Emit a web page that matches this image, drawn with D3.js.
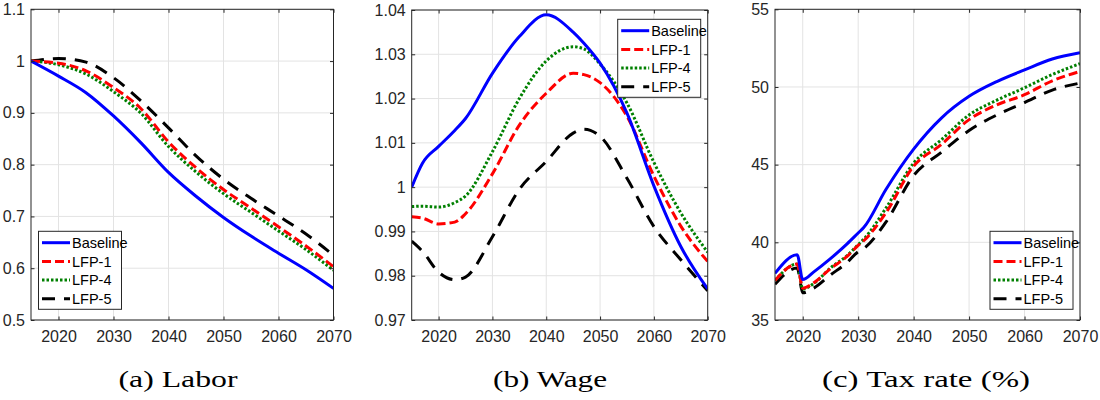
<!DOCTYPE html>
<html>
<head>
<meta charset="utf-8">
<script src="https://cdn.jsdelivr.net/npm/d3@7"></script>
<style>
  body { margin: 0; background: #fff; }
  svg { display: block; }
  .tick-label { font-family: "Liberation Sans Narrow", "Arial Narrow", "Liberation Sans", sans-serif; font-size: 16px; fill: #262626; }
  .legend-label { font-family: "Liberation Sans Narrow", "Arial Narrow", "Liberation Sans", sans-serif; font-size: 14.5px; fill: #000; }
  .caption { font-family: "Liberation Serif", "DejaVu Serif", serif; font-size: 23px; fill: #000; }
</style>
</head>
<body>
<svg width="1100" height="400"></svg>
<script>
// series names and x ticks shared by all three panels
var seriesNames = ["Baseline", "LFP-1", "LFP-4", "LFP-5"];
var yearTicks = [2020, 2030, 2040, 2050, 2060, 2070];

// (a) Labor
var laborYears = [2015, 2020, 2025, 2030, 2035, 2040, 2045, 2050, 2055, 2060, 2065, 2070];
var laborBase = [1.000, 0.971, 0.939, 0.894, 0.842, 0.785, 0.739, 0.698, 0.662, 0.629, 0.597, 0.561];
var laborLfp1 = [1.000, 0.996, 0.981, 0.949, 0.908, 0.844, 0.794, 0.752, 0.716, 0.680, 0.643, 0.603];
var laborLfp4 = [1.000, 0.993, 0.975, 0.941, 0.899, 0.835, 0.786, 0.744, 0.708, 0.672, 0.636, 0.596];
var laborLfp5 = [1.000, 1.005, 0.998, 0.968, 0.923, 0.871, 0.817, 0.772, 0.735, 0.701, 0.666, 0.625];
var laborTicks = [0.5, 0.6, 0.7, 0.8, 0.9, 1, 1.1];
var laborTickLabels = ["0.5", "0.6", "0.7", "0.8", "0.9", "1", "1.1"];

// (b) Wage
var wageYears = [2015, 2017, 2020, 2023, 2025, 2030, 2035, 2040, 2045, 2047, 2050, 2055, 2060, 2065, 2070];
var wageBase = [1.0000, 1.0054, 1.0092, 1.0128, 1.0155, 1.0257, 1.0340, 1.0389, 1.0350, 1.0325, 1.0280, 1.0167, 1.0003, 0.9866, 0.9770];
var wageLfp1 = [0.9933, 0.9930, 0.9917, 0.9921, 0.9940, 1.0030, 1.0140, 1.0212, 1.0257, 1.0254, 1.0236, 1.0160, 1.0025, 0.9912, 0.9832];
var wageLfp4 = [0.9956, 0.9957, 0.9955, 0.9965, 0.9980, 1.0080, 1.0200, 1.0285, 1.0317, 1.0312, 1.0278, 1.0190, 1.0056, 0.9942, 0.9853];
var wageLfp5 = [0.9878, 0.9855, 0.9808, 0.9791, 0.9797, 0.9888, 0.9995, 1.0058, 1.0122, 1.0131, 1.0115, 1.0020, 0.9911, 0.9836, 0.9766];
var wageTicks = [0.97, 0.98, 0.99, 1, 1.01, 1.02, 1.03, 1.04];
var wageTickLabels = ["0.97", "0.98", "0.99", "1", "1.01", "1.02", "1.03", "1.04"];

// (c) Tax rate (%)
var taxYears = [2015, 2019, 2020, 2022, 2025, 2028, 2030, 2031, 2035, 2040, 2045, 2050, 2055, 2060, 2065, 2070];
var taxBase = [38.0, 39.2, 37.6, 38.1, 38.95, 39.9, 40.6, 40.95, 43.4, 46.0, 48.0, 49.4, 50.35, 51.1, 51.8, 52.2];
var taxLfp1 = [37.55, 38.6, 37.05, 37.4, 38.3, 39.1, 39.8, 40.1, 41.9, 44.9, 46.3, 47.9, 48.85, 49.5, 50.4, 51.0];
var taxLfp4 = [37.55, 38.6, 37.0, 37.35, 38.35, 39.15, 39.85, 40.2, 42.2, 45.1, 46.6, 48.2, 49.15, 49.95, 50.8, 51.5];
var taxLfp5 = [37.3, 38.35, 36.75, 37.05, 37.9, 38.7, 39.4, 39.6, 41.3, 44.3, 45.8, 47.2, 48.2, 49.0, 49.8, 50.25];
var taxTicks = [35, 40, 45, 50, 55];
var taxTickLabels = ["35", "40", "45", "50", "55"];

var colors = ["#0000ff", "#ff0000", "#008000", "#000000"];
var dashes = [null, "9,4", "2.5,2", "13,9"];

var svg = d3.select("svg");

function drawPanel(p) {
    var x = d3.scaleLinear().domain([2015, 2070]).range([p.left, p.right]);
    var y = d3.scaleLinear().domain(p.domain).range([p.bottom, p.top]);
    var g = svg.append("g");

    // grid
    g.selectAll("line.vgrid").data(yearTicks).enter().append("line")
        .attr("x1", function(d){ return x(d); }).attr("x2", function(d){ return x(d); })
        .attr("y1", p.top).attr("y2", p.bottom)
        .attr("stroke", "#e3e3e3").attr("stroke-width", 1);
    g.selectAll("line.hgrid").data(p.ticks).enter().append("line")
        .attr("x1", p.left).attr("x2", p.right)
        .attr("y1", function(d){ return y(d); }).attr("y2", function(d){ return y(d); })
        .attr("stroke", "#e3e3e3").attr("stroke-width", 1);

    // series
    var line = d3.line()
        .x(function(d){ return x(d[0]); })
        .y(function(d){ return y(d[1]); })
        .curve(d3.curveMonotoneX);
    var clipId = "clip" + p.id;
    svg.append("clipPath").attr("id", clipId).append("rect")
        .attr("x", p.left).attr("y", p.top)
        .attr("width", p.right - p.left).attr("height", p.bottom - p.top);
    // draw LFP-5 first so the baseline stays on top
    [3, 2, 1, 0].forEach(function(i){
        var pts = p.years.map(function(yr, k){ return [yr, p.series[i][k]]; });
        g.append("path")
            .attr("d", line(pts))
            .attr("clip-path", "url(#" + clipId + ")")
            .attr("fill", "none")
            .attr("stroke", colors[i])
            .attr("stroke-width", 3)
            .attr("stroke-dasharray", dashes[i]);
    });

    // axes box with inward ticks on all sides (MATLAB style)
    var axisColor = "#262626";
    g.append("rect")
        .attr("x", p.left).attr("y", p.top)
        .attr("width", p.right - p.left).attr("height", p.bottom - p.top)
        .attr("fill", "none").attr("stroke", axisColor).attr("stroke-width", 1);

    var bottomAxis = d3.axisBottom(x).tickValues(yearTicks).tickSize(-3.5).tickFormat(d3.format("d"));
    var topAxis = d3.axisTop(x).tickValues(yearTicks).tickSize(-3.5).tickFormat("");
    var leftAxis = d3.axisLeft(y).tickValues(p.ticks).tickSize(-3.5)
        .tickFormat(function(d, i){ return p.tickLabels[i]; });
    var rightAxis = d3.axisRight(y).tickValues(p.ticks).tickSize(-3.5).tickFormat("");

    [[bottomAxis, "translate(0," + p.bottom + ")"],
     [topAxis, "translate(0," + p.top + ")"],
     [leftAxis, "translate(" + p.left + ",0)"],
     [rightAxis, "translate(" + p.right + ",0)"]].forEach(function(a){
        var ag = g.append("g").attr("transform", a[1]).call(a[0]);
        ag.select(".domain").remove();
        ag.selectAll(".tick line").attr("stroke", axisColor);
        ag.selectAll(".tick text").attr("class", "tick-label").attr("font-family", null).attr("font-size", null);
    });
    g.selectAll(".tick-label").filter(function(){ return this.parentNode.parentNode.getAttribute("transform") === "translate(0," + p.bottom + ")"; })
        .attr("y", 11).attr("dy", "0.71em");
    g.selectAll(".tick-label").filter(function(){ return this.parentNode.parentNode.getAttribute("transform") === "translate(" + p.left + ",0)"; })
        .attr("x", -6);

    // legend
    var lw = 83, lh = 78, rowH = 18.7;
    var lx = p.legendRight ? p.right - 7 - lw : p.left + 7.5;
    var ly = p.legendTop ? p.top + 9.3 : p.bottom - 10.7 - lh;
    var lg = g.append("g").attr("transform", "translate(" + lx + "," + ly + ")");
    lg.append("rect").attr("width", lw).attr("height", lh)
        .attr("fill", "#fff").attr("stroke", axisColor).attr("stroke-width", 1);
    seriesNames.forEach(function(name, i){
        var ry = 11.4 + i * rowH;
        lg.append("line")
            .attr("x1", 3.5).attr("x2", 31.5).attr("y1", ry).attr("y2", ry)
            .attr("stroke", colors[i]).attr("stroke-width", 3)
            .attr("stroke-dasharray", dashes[i]);
        lg.append("text").attr("class", "legend-label")
            .attr("x", 33.5).attr("y", ry).attr("dy", "0.36em")
            .text(name);
    });

    // caption
    svg.append("text").attr("class", "caption")
        .attr("x", p.capX).attr("y", 386.5)
        .attr("text-anchor", "middle")
        .attr("textLength", p.capW).attr("lengthAdjust", "spacingAndGlyphs")
        .text(p.caption);
}

drawPanel({
    id: "a", left: 31, right: 333.5, top: 9.3, bottom: 320,
    domain: [0.5, 1.1], ticks: laborTicks, tickLabels: laborTickLabels,
    years: laborYears, series: [laborBase, laborLfp1, laborLfp4, laborLfp5],
    legendRight: false, legendTop: false,
    caption: "(a) Labor", capX: 178, capW: 119
});
drawPanel({
    id: "b", left: 411.7, right: 707.7, top: 10, bottom: 320,
    domain: [0.97, 1.04], ticks: wageTicks, tickLabels: wageTickLabels,
    years: wageYears, series: [wageBase, wageLfp1, wageLfp4, wageLfp5],
    legendRight: true, legendTop: true,
    caption: "(b) Wage", capX: 550, capW: 114
});
drawPanel({
    id: "c", left: 775, right: 1080, top: 9.3, bottom: 320,
    domain: [35, 55], ticks: taxTicks, tickLabels: taxTickLabels,
    years: taxYears, series: [taxBase, taxLfp1, taxLfp4, taxLfp5],
    legendRight: true, legendTop: false,
    caption: "(c) Tax rate (%)", capX: 926, capW: 208
});
</script>
</body>
</html>
